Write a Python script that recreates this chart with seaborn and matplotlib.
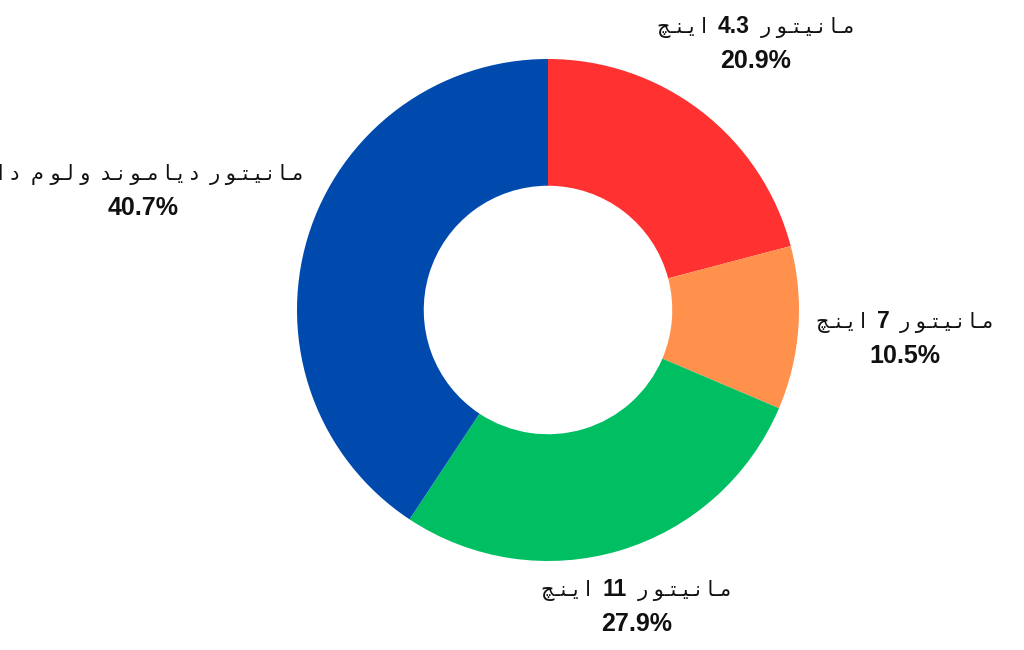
import matplotlib
matplotlib.use("Agg")
import matplotlib.pyplot as plt
from matplotlib import font_manager as fm
import seaborn as sns
import numpy as np

# ---- data ----
categories = ["مانیتور 4.3 اینچ", "مانیتور 7 اینچ", "مانیتور 11 اینچ", "مانیتور دیاموند ولوم دار"]
shares = [20.9, 10.5, 27.9, 40.7]
colors = ["#FF3131", "#FF914D", "#00BF63", "#004AAD"]

# ---- layout params ----
label_dist = [1.355, 1.426, 1.223, 1.685]

# ---- minimal Persian shaping (presentation forms) ----
FORMS = {
    'ا': ('\uFE8D', '\uFE8E', None, None),
    'د': ('\uFEA9', '\uFEAA', None, None),
    'ر': ('\uFEAD', '\uFEAE', None, None),
    'و': ('\uFEED', '\uFEEE', None, None),
    'م': ('\uFEE1', '\uFEE2', '\uFEE3', '\uFEE4'),
    'ن': ('\uFEE5', '\uFEE6', '\uFEE7', '\uFEE8'),
    'ت': ('\uFE95', '\uFE96', '\uFE97', '\uFE98'),
    'ل': ('\uFEDD', '\uFEDE', '\uFEDF', '\uFEE0'),
    'ی': ('\uFBFC', '\uFBFD', '\uFBFE', '\uFBFF'),
    'چ': ('\uFB7A', '\uFB7B', '\uFB7C', '\uFB7D'),
}


def dual(c):
    return c in FORMS and FORMS[c][2] is not None


def is_persian(w):
    return any(c in FORMS for c in w)


def shape_word(w):
    glyphs = []
    for i, c in enumerate(w):
        prev_j = i > 0 and dual(w[i - 1]) and c in FORMS
        next_j = i < len(w) - 1 and dual(c) and w[i + 1] in FORMS
        iso, fin, ini, med = FORMS[c]
        if prev_j and next_j:
            g = med
        elif prev_j:
            g = fin
        elif next_j:
            g = ini
        else:
            g = iso
        glyphs.append((g, next_j))
    vis = list(reversed(glyphs))
    s = ""
    for k, (g, nj) in enumerate(vis):
        s += g
        if k < len(vis) - 1:
            s += "\u0640" if vis[k + 1][1] else " "
    return s


def segments(text):
    """Visual (left-to-right) list of (string, is_persian) segments."""
    words = text.split(" ")
    segs = []
    for w in reversed(words):
        if is_persian(w):
            segs.append((shape_word(w), True))
        else:
            segs.append((w, False))
    return segs


sns.set_theme(style="white")
plt.rcParams['font.family'] = ['Liberation Sans', 'DejaVu Sans']

latin_path = None
for f in fm.fontManager.ttflist:
    if f.name == "Liberation Sans" and f.weight in (700, "bold") and f.style == "normal" \
            and "Narrow" not in f.fname:
        latin_path = f.fname
        break


def latin(size):
    if latin_path:
        return fm.FontProperties(fname=latin_path, size=size)
    return fm.FontProperties(family="Liberation Sans", weight="bold", size=size)


PCT = latin(18)
NUM = latin(16.5)
PERSIAN = fm.FontProperties(family="DejaVu Sans", weight="normal", size=15)

fig = plt.figure(figsize=(10.24, 6.5), dpi=100)
ax = fig.add_axes([0, 0, 1, 1])

wedges, _ = ax.pie(shares, colors=colors, startangle=90, counterclock=False,
                   radius=1.0, wedgeprops=dict(width=0.505, linewidth=0))

ax.set_xlim(-548 / 251, (1024 - 548) / 251)
ax.set_ylim(-340 / 251, 310 / 251)
ax.set_aspect("auto")
ax.axis("off")

fig.canvas.draw()
renderer = fig.canvas.get_renderer()
to_data = ax.transData.inverted()
word_gap = 11  # px

cum = 0.0
total = sum(shares)
for i, (cat, v) in enumerate(zip(categories, shares)):
    mid = 90 - (cum + v / 2) / total * 360
    cum += v
    th = np.deg2rad(mid)
    x = label_dist[i] * np.cos(th)
    y = label_dist[i] * np.sin(th)
    px, py = ax.transData.transform((x, y))
    # percentage line (below centre)
    ax.text(*to_data.transform((px, py - 20)), f"{v:.1f}%", ha="center", va="center",
            fontproperties=PCT, color="#111111")
    # name line (above centre), built from segments
    segs = segments(cat)
    texts = []
    for s, fa in segs:
        t = ax.text(0, 0, s, ha="left", va="baseline",
                    fontproperties=PERSIAN if fa else NUM, color="#111111")
        texts.append(t)
    widths = [t.get_window_extent(renderer).width for t in texts]
    totw = sum(widths) + word_gap * (len(texts) - 1)
    cx = px - totw / 2
    base = py + 8
    for t, w in zip(texts, widths):
        t.set_position(to_data.transform((cx, base)))
        cx += w + word_gap

fig.savefig("out.png", dpi=100)
